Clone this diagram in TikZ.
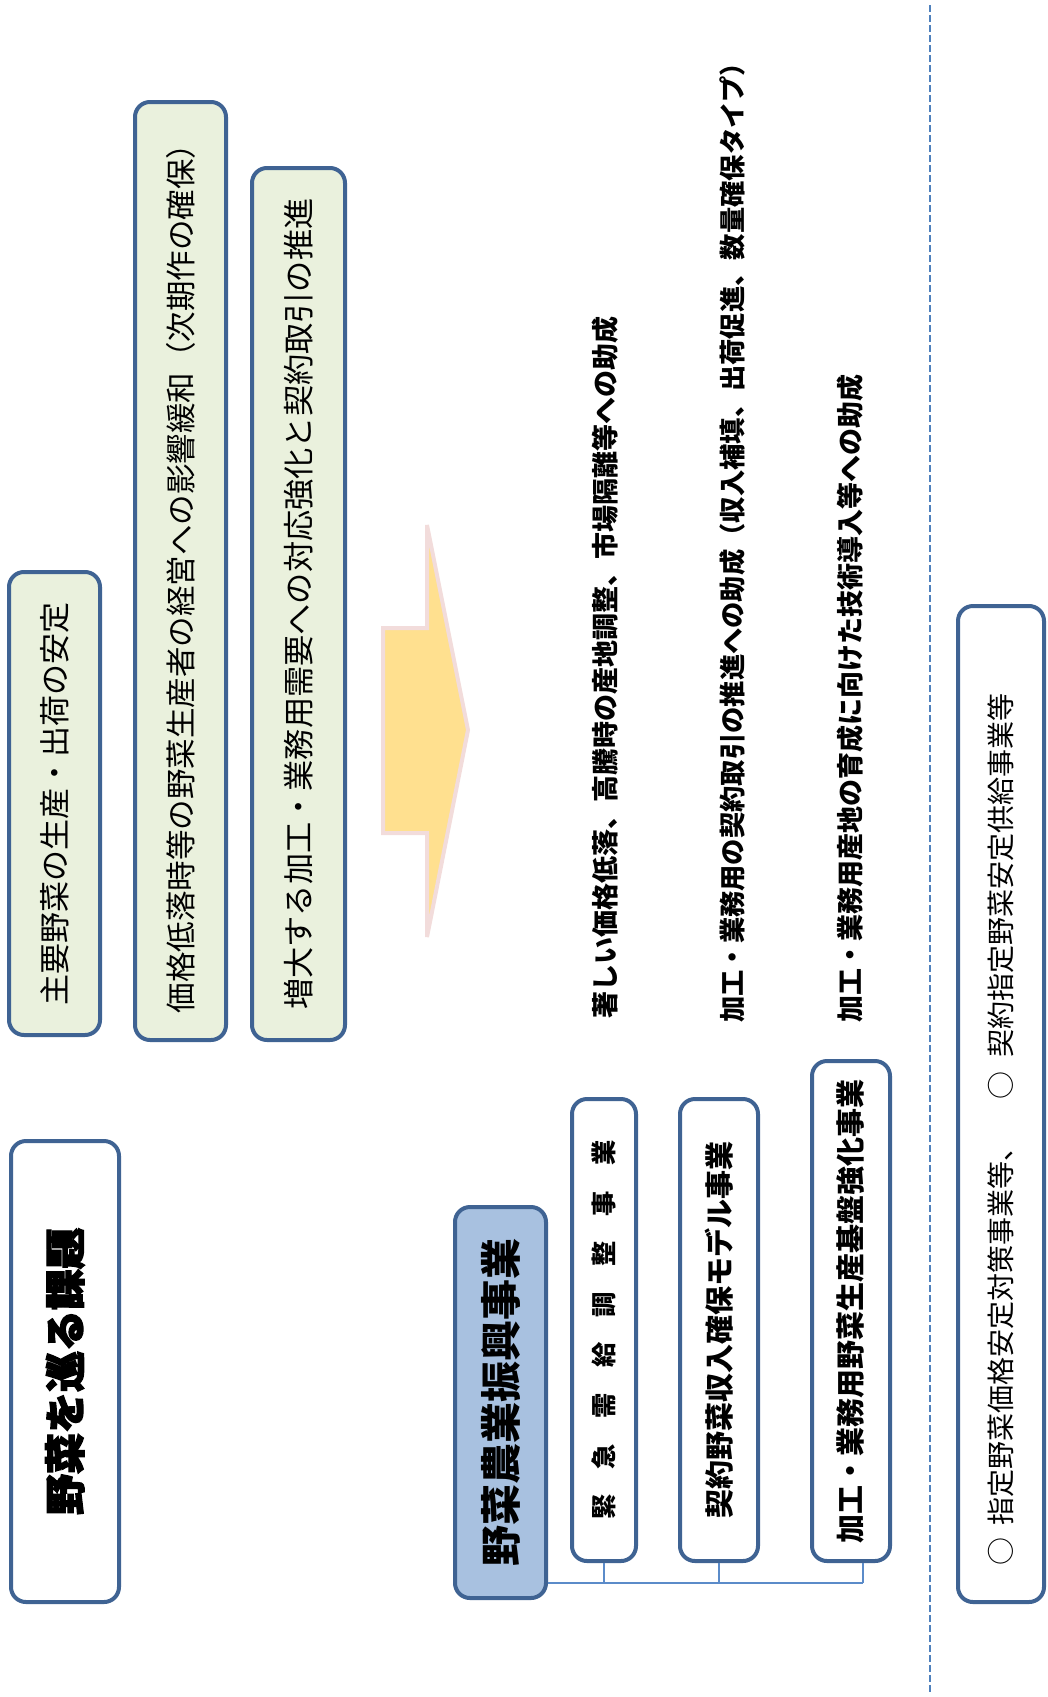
\documentclass[tikz,border=0pt]{standalone}
\usepackage{fontspec}
\setmainfont{Noto Sans CJK JP}
\newfontfamily\jpheavy{Noto Sans CJK JP}[FakeBold=3]
\usetikzlibrary{calc}
\definecolor{boxblue}{HTML}{3F6393}
\definecolor{greenfill}{HTML}{EAF1DD}
\definecolor{bluefill}{HTML}{A8C1E0}
\definecolor{arrowfill}{HTML}{FFE08F}
\definecolor{arrowline}{HTML}{F2DCDB}
\definecolor{connblue}{HTML}{5B8BC9}
\definecolor{dashblue}{HTML}{4F81BD}
\newcommand{\fsz}[1]{\fontsize{#1}{#1}\selectfont}
\tikzset{
  panel/.style={draw=boxblue, line width=4pt, rounded corners=15pt, rotate=90,
    inner sep=0pt, anchor=center, align=center, text=black},
  greenpanel/.style={panel, fill=greenfill},
  whitepanel/.style={panel, fill=white},
  bluepanel/.style={panel, fill=bluefill},
  freetext/.style={rotate=90, anchor=west, inner sep=0pt, text=black},
  conn/.style={draw=connblue, line width=1.6pt},
  dashline/.style={draw=dashblue, line width=2.5pt, dash pattern=on 7pt off 3pt},
  bigarrow/.style={draw=arrowline, fill=arrowfill, line width=4pt, line join=miter},
}
\begin{document}
\begin{tikzpicture}[x=1pt,y=-1pt]
\useasboundingbox (0,0) rectangle (1048,1697);
\clip (0,0) rectangle (1048,1697);

% dashed separator
\coordinate (dtop) at (930,5);
\coordinate (dbot) at (930,1692);
\draw[dashline] (dtop) -- (dbot);

% left column: issues
\node[whitepanel, minimum width=461pt, minimum height=108pt, font=\jpheavy\bfseries\fsz{41}]
  (title) at (65,1371.5) {野菜を巡る課題};
\node[greenpanel, minimum width=463pt, minimum height=91pt, font=\fsz{31}]
  (shuyo) at (54.5,803.5) {主要野菜の生産・出荷の安定};
\node[greenpanel, minimum width=938pt, minimum height=91pt, font=\fsz{30.5}]
  (kakaku) at (180.5,571) {価格低落時等の野菜生産者の経営への影響緩和（次期作の確保）};
\node[greenpanel, minimum width=872pt, minimum height=93pt, font=\fsz{31.2}]
  (zodai) at (298.5,604) {増大する加工・業務用需要への対応強化と契約取引の推進};

% big arrow
\draw[bigarrow] (383,628) -- (427,628) -- (427,525) -- (468,730) -- (427,937)
  -- (427,833) -- (383,833) -- cycle;

% programme boxes
\node[bluepanel, minimum width=391pt, minimum height=91pt, font=\bfseries\fsz{41}]
  (blue) at (500.5,1402.5) {野菜農業振興事業};
\node[whitepanel, minimum width=462pt, minimum height=64pt, font=\bfseries\fsz{25.3}]
  (kinkyu) at (604,1330) {緊　急　需　給　調　整　事　業};
\node[whitepanel, minimum width=462pt, minimum height=78pt, font=\bfseries\fsz{29}]
  (keiyaku) at (719,1330) {契約野菜収入確保モデル事業};
\node[whitepanel, minimum width=500pt, minimum height=78pt, font=\bfseries\fsz{29}]
  (kako) at (851,1311) {加工・業務用野菜生産基盤強化事業};

% connectors
\coordinate (jr) at (863,1583);
\draw[conn] (blue.south |- jr) -- (jr);
\draw[conn] (kinkyu.west) -- (kinkyu.west |- jr);
\draw[conn] (keiyaku.west) -- (keiyaku.west |- jr);
\draw[conn] (jr |- kako.west) -- (jr);

% descriptions
\node[freetext, font=\bfseries\fsz{27}] (d1) at (605,1019)
  {著しい価格低落、高騰時の産地調整、市場隔離等への助成};
\node[freetext, font=\bfseries\fsz{26.3}] (d2) at (732,1023)
  {加工・業務用の契約取引の推進への助成（収入補填、出荷促進、数量確保タイプ）};
\node[freetext, font=\bfseries\fsz{27}] (d3) at (850,1023)
  {加工・業務用産地の育成に向けた技術導入等への助成};

% bottom box
\node[whitepanel, minimum width=996pt, minimum height=86pt] (other) at (1001,1104) {};
\node[freetext, font=\fsz{28}] (othertext) at (1001,1566)
  {○\hspace{12pt}指定野菜価格安定対策事業等、\hspace{34pt}○\hspace{14pt}契約指定野菜安定供給事業等};
\end{tikzpicture}
\end{document}
